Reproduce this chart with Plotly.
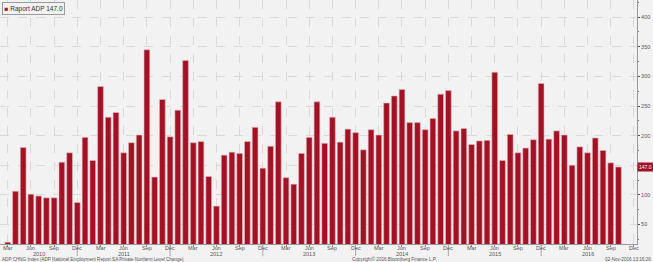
import plotly.graph_objects as go

# Monthly ADP private payroll change (thousands), Mar 2010 .. Oct 2016
values = [20, 106, 180, 101, 98, 95, 95, 155, 171, 87, 197, 158,
          283, 231, 239, 171, 188, 201, 345, 130, 261, 198, 243, 327,
          188, 190, 131, 81, 167, 172, 170, 190, 214, 145, 182, 257,
          129, 118, 170, 197, 257, 187, 231, 189, 211, 205, 176, 210,
          201, 255, 267, 278, 222, 222, 210, 229, 270, 276, 208, 212,
          185, 191, 192, 307, 158, 202, 171, 179, 193, 288, 194, 208,
          201, 150, 181, 171, 196, 175, 154, 147]
start_year, start_month = 2010, 3
month_names = ["Jan", "Feb", "Mar", "Apr", "May", "Jun", "Jul", "Aug", "Sep", "Oct", "Nov", "Dec"]
y_ticks = [50, 100, 150, 200, 250, 300, 350, 400]
series_name = "Raport ADP"
last_label = "147.0"

n = len(values)
x_idx = list(range(n))

def month_of(i):
    m = start_month - 1 + i
    return start_year + m // 12, m % 12

# quarterly tick positions through Dec 2016
tickvals, ticktext = [], []
for i in range(0, 82):
    yr, mo = month_of(i)
    if mo in (2, 5, 8, 11):
        tickvals.append(i)
        ticktext.append(month_names[mo])

BAR = "#a31125"
BG = "#f2f2f2"
GRID = "#d9d9d9"
TXT = "#555555"
FONT = "Liberation Sans"

fig = go.Figure()
fig.add_trace(go.Bar(
    x=x_idx, y=values, name=f"{series_name} {last_label}",
    marker=dict(color=BAR, line=dict(color="#e3b3ba", width=0.6)),
    width=0.74, showlegend=False,
))

fig.update_layout(
    width=653, height=262,
    margin=dict(l=0, r=16, t=0, b=18),
    paper_bgcolor=BG, plot_bgcolor=BG,
    font=dict(family=FONT, size=6, color=TXT),
    showlegend=False,
)
fig.update_xaxes(
    range=[-1.0, 81.4], tickmode="array", tickvals=tickvals, ticktext=ticktext,
    showticklabels=False,
    showgrid=True, gridcolor=GRID, griddash="dash", gridwidth=1,
    ticks="outside", ticklen=2, tickcolor="#888888",
    showline=True, linecolor="#999999", linewidth=1, zeroline=False,
)
ytext = [("" if v == 150 else str(v)) for v in y_ticks]
fig.update_yaxes(
    range=[17, 429], side="right", tickmode="array", tickvals=y_ticks, ticktext=ytext,
    showgrid=True, gridcolor=GRID, griddash="dash", gridwidth=1,
    ticks="outside", ticklen=2, tickcolor="#555555",
    minor=dict(dtick=25, ticks="outside", ticklen=1, tickcolor="#777777", showgrid=False),
    showline=True, linecolor="#999999", linewidth=1,
    tickfont=dict(size=5.5, color=TXT), zeroline=False,
)

# month labels
for v, t in zip(tickvals, ticktext):
    fig.add_annotation(x=v, y=0, xref="x", yref="paper", yshift=-3.5, text=t,
                       showarrow=False, font=dict(size=5.5, color=TXT),
                       xanchor="center", yanchor="middle")

# year labels and year separators
years = sorted(set(month_of(i)[0] for i in range(82)))
for yr in years:
    if yr == start_year:
        pos = 4
    else:
        pos = (yr - start_year) * 12 + 5 - (start_month - 1)
    fig.add_annotation(x=pos, y=0, xref="x", yref="paper", yshift=-9.5, text=str(yr),
                       showarrow=False, font=dict(size=5.5, color=TXT),
                       xanchor="center", yanchor="middle")
for i in range(82):
    yr, mo = month_of(i)
    if mo == 11 and i < 81:
        fig.add_shape(type="line", x0=i, x1=i, xref="x", y0=0, y1=-0.05, yref="paper",
                      line=dict(color="#aaaaaa", width=1))

# legend box
fig.add_annotation(x=0.003, y=0.993, xref="paper", yref="paper", xanchor="left", yanchor="top",
                   text=f"<span style='color:{BAR}'>■</span> {series_name} {last_label}",
                   showarrow=False, font=dict(size=6.5, color="#333333"),
                   bgcolor=BG, bordercolor="#9a9a9a", borderwidth=1, borderpad=1.5)

# last value label on the right axis
fig.add_annotation(x=1.0, y=values[-1], xref="paper", yref="y", text=last_label,
                   showarrow=False, xanchor="left", yanchor="middle", xshift=0,
                   bgcolor=BAR, font=dict(size=5, color="white"), borderpad=1)

# footer texts
fig.add_annotation(x=0.0, y=0, xref="paper", yref="paper", yshift=-15,
                   text="ADP CHNG Index (ADP National Employment Report SA Private Nonfarm Level Change)",
                   showarrow=False, xanchor="left", yanchor="middle",
                   font=dict(size=4.6, color=TXT))
fig.add_annotation(x=0.62, y=0, xref="paper", yref="paper", yshift=-15,
                   text="Copyright© 2016 Bloomberg Finance L.P.",
                   showarrow=False, xanchor="center", yanchor="middle",
                   font=dict(size=4.6, color=TXT))
fig.add_annotation(x=1.025, y=0, xref="paper", yref="paper", yshift=-15,
                   text="02-Nov-2016 13:16:26",
                   showarrow=False, xanchor="right", yanchor="middle",
                   font=dict(size=4.6, color=TXT))

fig.write_html("out.html")
